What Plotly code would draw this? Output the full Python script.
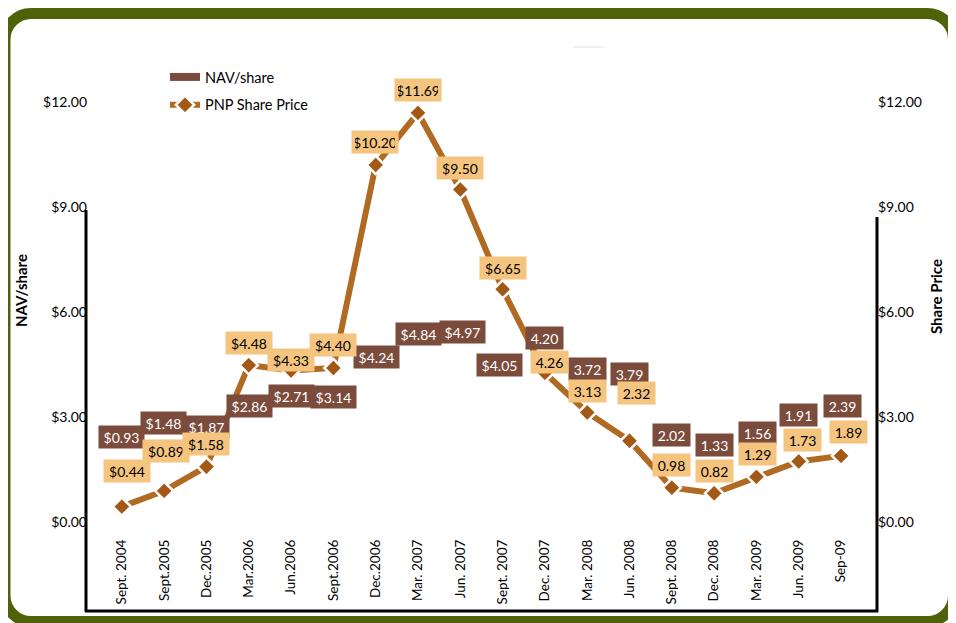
import plotly.graph_objects as go

# ---------------- data ----------------
categories = ["Sept. 2004", "Sept.2005", "Dec.2005", "Mar.2006", "Jun.2006", "Sept.2006",
              "Dec.2006", "Mar. 2007", "Jun. 2007", "Sept. 2007", "Dec. 2007", "Mar. 2008",
              "Jun. 2008", "Sept. 2008", "Dec. 2008", "Mar. 2009", "Jun. 2009", "Sep-09"]
nav_share = [0.93, 1.48, 1.87, 2.86, 2.71, 3.14, 4.24, 4.84, 4.97, 4.05,
             4.20, 3.72, 3.79, 2.02, 1.33, 1.56, 1.91, 2.39]
pnp_price = [0.44, 0.89, 1.58, 4.48, 4.33, 4.40, 10.20, 11.69, 9.50, 6.65,
             4.26, 3.13, 2.32, 0.98, 0.82, 1.29, 1.73, 1.89]
dollar_count = 10  # first labels carry a "$" sign
y_tick_vals = [0, 3, 6, 9, 12]
y_tick_text = ["$0.00", "$3.00", "$6.00", "$9.00", "$12.00"]

# label offsets (pixels) – styling only
nav_dy = [52, 47, 30, 16, 31, 15, 17, 19, 16, 15, 37, 23, 15, 16, 30, 34, 40, 32]
nav_dx = [0, -1, 0, 1, 0, 0, 1, 1, 2, -3, 0, 0, 0, 0, 0, 1, 0, 1]
pnp_dy = [36, 40, 23, 22, 10, 23, 23, 23, 22, 21, 11, 21, 48, 23, 22, 23, 21, 24]
pnp_dx = [5, 2, 0, 0, 0, 0, -1, 0, 0, 0, 5, 0, 7, 0, 0, 1, 4, 7]

# ---------------- layout geometry ----------------
OFF = 8                      # page body margin
W, H = 956 - OFF, 623 - OFF
ML, MR, MT, MB = 88 - OFF, 79, 30 - OFF, 13
PW = W - ML - MR
PH = H - MT - MB
ZERO_PX = 522
UNIT_PX = 35.0
y_lo = -(610 - ZERO_PX) / UNIT_PX
y_hi = y_lo + PH / UNIT_PX


def xp(px):  # image pixel -> paper
    return (px - OFF - ML) / PW


def yp(py):
    return (H - MB - (py - OFF)) / PH


FONT = "Lato, 'Gill Sans', 'Open Sans', sans-serif"
LINE_COL = "#B06A22"
MARK_COL = "#A35816"
NAV_BG = "#7B4B3B"
PNP_BG = "#F5C47F"
FRAME = "#4F6109"

fig = go.Figure()

# legend-only entry for NAV/share (the NAV series is shown as labels only)
fig.add_trace(go.Scatter(
    x=[None], y=[None], mode="lines", name="NAV/share",
    line=dict(color=NAV_BG, width=8), legendgroup="a", hoverinfo="skip"))

fig.add_trace(go.Scatter(
    x=categories, y=pnp_price, mode="lines+markers", name="PNP Share Price",
    line=dict(color=LINE_COL, width=6),
    marker=dict(symbol="diamond", size=14, color=MARK_COL,
                line=dict(color="white", width=2.5)),
    legendgroup="b", hoverinfo="skip"))

# secondary axis helper trace (invisible) so the right axis is rendered
fig.add_trace(go.Scatter(x=categories, y=pnp_price, yaxis="y2", mode="lines",
                         line=dict(width=0, color="rgba(0,0,0,0)"),
                         showlegend=False, hoverinfo="skip"))

annotations = []
for i, (c, v) in enumerate(zip(categories, nav_share)):
    t = f"${v:.2f}" if i < dollar_count else f"{v:.2f}"
    annotations.append(dict(
        x=c, y=v, xref="x", yref="y", text=t, showarrow=False,
        xshift=nav_dx[i], yshift=nav_dy[i],
        bgcolor=NAV_BG, borderpad=3,
        width=39 if i < dollar_count else 31, height=16,
        font=dict(family=FONT, size=14, color="#FFFFFF")))
for i, (c, v) in enumerate(zip(categories, pnp_price)):
    t = f"${v:.2f}" if i < dollar_count else f"{v:.2f}"
    annotations.append(dict(
        x=c, y=v, xref="x", yref="y", text=t, showarrow=False,
        xshift=pnp_dx[i], yshift=pnp_dy[i],
        bgcolor=PNP_BG, borderpad=3,
        width=40 if i < dollar_count else 31, height=16,
        font=dict(family=FONT, size=14, color="#000000")))

# axis titles
annotations.append(dict(x=xp(21), y=yp(291), xref="paper", yref="paper",
                        xanchor="center", yanchor="middle",
                        text="<b>NAV/share</b>", textangle=-90, showarrow=False,
                        font=dict(family=FONT, size=15, color="#000")))
annotations.append(dict(x=xp(936), y=yp(297), xref="paper", yref="paper",
                        xanchor="center", yanchor="middle",
                        text="<b>Share Price</b>", textangle=-90, showarrow=False,
                        font=dict(family=FONT, size=15, color="#000")))


def rounded_rect_path(x0, y0, x1, y1, r):
    k = 0.5523 * r
    pts = []
    pts.append(f"M {xp(x0 + r)},{yp(y0)}")
    pts.append(f"L {xp(x1 - r)},{yp(y0)}")
    pts.append(f"C {xp(x1 - r + k)},{yp(y0)} {xp(x1)},{yp(y0 + r - k)} {xp(x1)},{yp(y0 + r)}")
    pts.append(f"L {xp(x1)},{yp(y1 - r)}")
    pts.append(f"C {xp(x1)},{yp(y1 - r + k)} {xp(x1 - r + k)},{yp(y1)} {xp(x1 - r)},{yp(y1)}")
    pts.append(f"L {xp(x0 + r)},{yp(y1)}")
    pts.append(f"C {xp(x0 + r - k)},{yp(y1)} {xp(x0)},{yp(y1 - r + k)} {xp(x0)},{yp(y1 - r)}")
    pts.append(f"L {xp(x0)},{yp(y0 + r)}")
    pts.append(f"C {xp(x0)},{yp(y0 + r - k)} {xp(x0 + r - k)},{yp(y0)} {xp(x0 + r)},{yp(y0)}")
    pts.append("Z")
    return " ".join(pts)


shapes = [
    # green rounded frame
    dict(type="path", xref="paper", yref="paper",
         path=rounded_rect_path(5, 13.5, 953.5, 621.5, 26),
         line=dict(color=FRAME, width=11), layer="above"),
    # black bracket lines
    dict(type="line", xref="paper", yref="paper", x0=xp(86), x1=xp(86), y0=yp(210), y1=yp(612),
         line=dict(color="black", width=3)),
    dict(type="line", xref="paper", yref="paper", x0=xp(85), x1=xp(878), y0=yp(611), y1=yp(611),
         line=dict(color="black", width=3)),
    dict(type="line", xref="paper", yref="paper", x0=xp(877), x1=xp(877), y0=yp(217), y1=yp(612),
         line=dict(color="black", width=3)),
    # faint title remnant
    dict(type="line", xref="paper", yref="paper", x0=xp(573), x1=xp(605), y0=yp(47), y1=yp(47),
         line=dict(color="#E2E2E2", width=1)),
]

fig.update_layout(
    width=W, height=H,
    margin=dict(l=ML, r=MR, t=MT, b=MB, pad=0),
    paper_bgcolor="white", plot_bgcolor="white",
    font=dict(family=FONT, size=13, color="#000"),
    showlegend=True,
    legend=dict(x=xp(165), y=yp(61), xanchor="left", yanchor="top",
                bgcolor="rgba(0,0,0,0)", tracegroupgap=6,
                font=dict(family=FONT, size=14.5, color="#000")),
    xaxis=dict(type="category", categoryorder="array", categoryarray=categories,
               range=[-0.8, 17.85], tickangle=-90, showline=False, showgrid=False,
               zeroline=False, ticks="", anchor="free", position=yp(536),
               tickfont=dict(family=FONT, size=13.5, color="#000"), automargin=False),
    yaxis=dict(range=[y_lo, y_hi], tickvals=y_tick_vals, ticktext=y_tick_text,
               showline=False, showgrid=False, zeroline=False, ticks="",
               tickfont=dict(family=FONT, size=14, color="#000"), automargin=False),
    yaxis2=dict(range=[y_lo, y_hi], overlaying="y", side="right",
                tickvals=y_tick_vals, ticktext=y_tick_text,
                showline=False, showgrid=False, zeroline=False, ticks="",
                tickfont=dict(family=FONT, size=14, color="#000"), automargin=False),
    annotations=annotations,
    shapes=shapes,
    hovermode=False,
)

fig.write_html("out.html", config={"displayModeBar": False})
